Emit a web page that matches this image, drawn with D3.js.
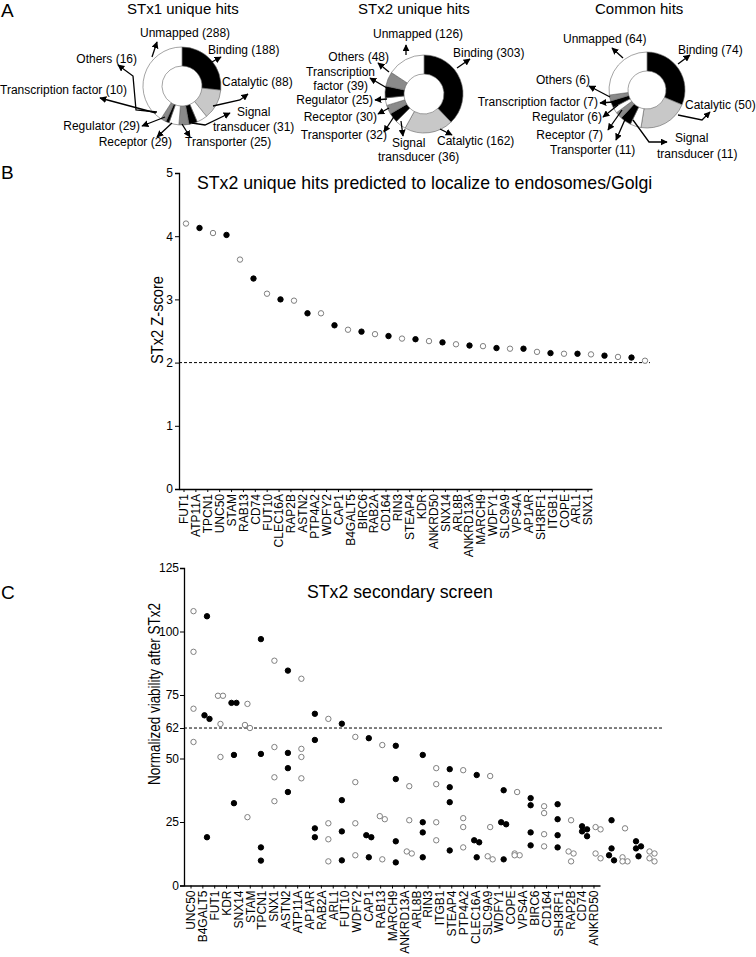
<!DOCTYPE html>
<html><head><meta charset="utf-8">
<script src="https://cdn.jsdelivr.net/npm/d3@7/dist/d3.min.js"></script>
<style>
body{margin:0;background:#fff}
svg{display:block}
text{font-family:Arial,"Liberation Sans",Helvetica,sans-serif;fill:#000}
</style>
</head><body>
<svg id="chart" width="756" height="957"></svg>
<script>
// ---------------- DATA ----------------
const pieCategories = ["Binding","Catalytic","Signal transducer","Transporter","Receptor","Regulator","Transcription factor","Others","Unmapped"];
const stx1Counts   = [188, 88, 31, 25, 29, 29, 10, 16, 288];
const stx2Counts   = [303, 162, 36, 32, 30, 25, 39, 48, 126];
const commonCounts = [74, 50, 11, 11, 7, 6, 7, 6, 64];
const pieTitles = ["STx1 unique hits", "STx2 unique hits", "Common hits"];

const zGenes = ["FUT1","ATP11A","TPCN1","UNC50","STAM","RAB13","CD74","FUT10","CLEC16A","RAP2B","ASTN2","PTP4A2","WDFY2","CAP1","B4GALT5","BIRC6","RAB2A","CD164","RIN3","STEAP4","KDR","ANKRD50","SNX14","ARL8B","ANKRD13A","MARCH9","WDFY1","SLC9A9","VPS4A","AP1AR","SH3RF1","ITGB1","COPE","ARL1","SNX1"];
const zScores = [4.20,4.13,4.05,4.02,3.63,3.33,3.09,3.00,2.98,2.78,2.78,2.59,2.52,2.49,2.45,2.42,2.38,2.37,2.34,2.32,2.29,2.27,2.26,2.23,2.22,2.22,2.17,2.15,2.14,2.14,2.13,2.11,2.09,2.08,2.03];
const zTicks = [0,1,2,3,4,5];
const zThreshold = 2;

const viabilityGenes = ["UNC50","B4GALT5","FUT1","KDR","SNX14","STAM","TPCN1","SNX1","ASTN2","ATP11A","AP1AR","RAB2A","ARL1","FUT10","WDFY2","CAP1","RAB13","MARCH9","ANKRD13A","ARL8B","RIN3","ITGB1","STEAP4","PTP4A2","CLEC16A","SLC9A9","WDFY1","COPE","VPS4A","BIRC6","CD164","SH3RF1","RAP2B","CD74","ANKRD50"];
const viabilityReps = [
 [108,92,69.6,56.5],[106,67,65.6,19],[74.7,74.7,63.6,50.6],[71.9,71.9,51.4,32.4],[71.5,63.2,62,26.9],
 [97,51.8,15,9.8],[88.5,54.5,42.6,33.2],[84.6,52.2,46.2,36.8],[81.4,53.8,50.6,42.2],[67.6,57.3,22.5,19],
 [65.6,24.5,18.2,9.5],[63.7,33.6,21.3,9.9],[58.5,40.7,24.5,11.9],[58,19.8,19,11.1],[55.3,27.3,26.1,10.3],
 [55,41.9,17.4,9.1],[39.1,25.7,13.4,12.6],[51.4,24.9,20.9,11.1],[46.2,39.9,24.9,17.8],[45.8,38.7,32.8,13.8],
 [45.4,26.5,23,15],[43.5,17.8,17,11.1],[43.1,23,11.5,10.3],[37.5,24.9,24.1,10.3],[36.8,12.6,11.9,11.9],
 [34.4,31.6,20.9,15.8],[31.2,28.5,20.2,15.4],[32,26.1,19.8,15],[25.7,13.4,12.6,9.5],[23.3,22.1,21.3,19.4],
 [23,22.1,12.6,10.7],[25.7,14.6,11.9,9.9],[22.5,11.1,9.5,9.5],[17.4,15.4,14.6,11.5],[13.4,12.6,10.7,9.5]
];
const viabilityTicks = [0,25,50,62,75,100,125];
const viabilityThreshold = 62;

// ---------------- STYLE / LAYOUT ----------------
const pieColors = ["#000","#c8c8c8","#fff","#000","#8a8a8a","#fff","#000","#8a8a8a","#fff"];
const FONT = "Arial, Liberation Sans, sans-serif";
const svg = d3.select("#chart");
svg.append("rect").attr("width",756).attr("height",957).attr("fill","#fff");

const defs = svg.append("defs");
defs.append("marker").attr("id","ah").attr("viewBox","0 0 10 10").attr("refX",9).attr("refY",5)
  .attr("markerWidth",7).attr("markerHeight",7).attr("orient","auto-start-reverse").attr("markerUnits","userSpaceOnUse")
  .append("path").attr("d","M0,0 L10,5 L0,10 z").attr("fill","#000");

// panel letters
[["A",17],["B",179],["C",599]].forEach(([t,y])=>{
  svg.append("text").attr("x",1).attr("y",y).attr("font-size",19).text(t);
});

// ---------- Panel A: donuts ----------
const pieLayouts = [
 {cx:182, cy:86, R:39, r:20, tx:127, ty:14, counts:stx1Counts,
  ann:[
   {lines:[0], x:208, y:54, a:"start", p:[[210,63],[221,57]]},
   {lines:[0], x:222, y:86, a:"start", p:[[213,106],[240,100],[248,94]]},
   {lines:["Signal","transducer"], x:[237,213], y:[116,131], a:"start", p:[[192,123],[205,125],[230,113]]},
   {lines:[0], x:185, y:146, a:"start", p:[[182,124],[190,137]]},
   {lines:[0], x:172, y:146, a:"end", p:[[172,123],[157,137]]},
   {lines:[0], x:140, y:130, a:"end", p:[[165,117],[142,126]]},
   {lines:[0], x:127, y:94, a:"end", p:[[156,113],[100,98]]},
   {lines:[0], x:137, y:63, a:"end", p:[[157,112],[136,110],[133,76],[118,65]]},
   {lines:[0], x:140, y:37, a:"start", p:[[152,57],[157,42]]}
  ]},
 {cx:424, cy:94, R:39, r:20, tx:358, ty:14, counts:stx2Counts,
  ann:[
   {lines:[0], x:453, y:57, a:"start", p:[[457,68],[470,59]]},
   {lines:[0], x:437, y:145, a:"start", p:[[440,129],[452,135]]},
   {lines:["Signal","transducer"], x:[392,378], y:[147,161], a:"start", p:[[401,121],[403,136]]},
   {lines:[0], x:387, y:139, a:"end", p:[[395,115],[384,132]]},
   {lines:[0], x:377, y:121, a:"end", p:[[389,108],[378,114]]},
   {lines:[0], x:373, y:104, a:"end", p:[[387,99],[375,100]]},
   {lines:["Transcription","factor"], x:[375,368], y:[76,90], a:"end", p:[[387,88],[370,78]]},
   {lines:[0], x:389, y:61, a:"end", p:[[389,72],[378,63]]},
   {lines:[0], x:373, y:38, a:"start", p:[[406,55],[406,45]]}
  ]},
 {cx:647, cy:90, R:38, r:19, tx:595, ty:14, counts:commonCounts,
  ann:[
   {lines:[0], x:678, y:54, a:"start", p:[[678,64],[690,55]]},
   {lines:[0], x:685, y:109, a:"start", p:[[678,115],[702,120],[710,112]]},
   {lines:["Signal","transducer"], x:[675,657], y:[142,158], a:"start", p:[[633,120],[649,142],[667,142]]},
   {lines:[0], x:550, y:154, a:"start", p:[[627,115],[616,140]]},
   {lines:[0], x:603, y:139, a:"end", p:[[622,110],[608,130]]},
   {lines:[0], x:602, y:121, a:"end", p:[[618,105],[603,117]]},
   {lines:[0], x:598, y:106, a:"end", p:[[613,102],[600,103]]},
   {lines:[0], x:590, y:84, a:"end", p:[[610,97],[589,86]]},
   {lines:[0], x:563, y:43, a:"start", p:[[623,58],[612,48]]}
  ]}
];

pieLayouts.forEach((L,pi)=>{
  const g = svg.append("g");
  g.append("text").attr("x",L.tx).attr("y",L.ty).attr("font-size",15).text(pieTitles[pi]);
  const arcs = d3.pie().sort(null).value(d=>d)(L.counts);
  const arc = d3.arc().innerRadius(L.r).outerRadius(L.R);
  g.append("g").attr("transform",`translate(${L.cx},${L.cy})`)
    .selectAll("path").data(arcs).join("path")
    .attr("d",arc).attr("fill",(d,i)=>pieColors[i]).attr("stroke","#666").attr("stroke-width",0.6);
  L.ann.forEach((an,i)=>{
    const full = `${pieCategories[i]} (${L.counts[i]})`;
    const lines = an.lines.length===1 ? [full] : [an.lines[0], `${an.lines[1]} (${L.counts[i]})`];
    lines.forEach((ln,k)=>{
      const x = Array.isArray(an.x)?an.x[k]:an.x;
      const y = Array.isArray(an.y)?an.y[k]:an.y;
      g.append("text").attr("x",x).attr("y",y).attr("font-size",12).attr("text-anchor",an.a).text(ln);
    });
    g.append("path").attr("d",d3.line()(an.p)).attr("fill","none").attr("stroke","#000")
      .attr("stroke-width",1.3).attr("marker-end","url(#ah)");
  });
});

function styleXAxis(xa){
  xa.select(".domain").attr("stroke","#000").attr("stroke-width",1.3);
  xa.selectAll(".tick line").attr("stroke","#000");
  xa.selectAll("text").attr("font-size",12).attr("font-family",FONT)
    .attr("transform","rotate(-90)").attr("x",-5).attr("y",0).attr("dy","0.36em").style("text-anchor","end");
}
function styleYAxis(ya){
  ya.select(".domain").attr("stroke","#000").attr("stroke-width",1.3);
  ya.selectAll(".tick line").attr("stroke","#000");
  ya.selectAll("text").attr("font-size",12).attr("font-family",FONT);
}

// ---------- Panel B ----------
(function(){
  const y = d3.scaleLinear().domain([0,5]).range([489,173]);
  const xLab = d3.scalePoint().domain(zGenes).range([179,592]).padding(0.38);
  const xPt = d3.scalePoint().domain(zGenes).range([186,645]);
  const g = svg.append("g");
  g.append("text").attr("x",197).attr("y",189).attr("font-size",17.7).text("STx2 unique hits predicted to localize to endosomes/Golgi");
  const ya = g.append("g").attr("transform","translate(179,0)")
    .call(d3.axisLeft(y).tickValues(zTicks).tickSize(4).tickPadding(2).tickFormat(d3.format("d")));
  styleYAxis(ya);
  const xa = g.append("g").attr("transform","translate(0,489)")
    .call(d3.axisBottom(xLab).tickSize(3).tickSizeOuter(0));
  styleXAxis(xa);
  g.append("line").attr("x1",179).attr("x2",650).attr("y1",y(zThreshold)).attr("y2",y(zThreshold))
    .attr("stroke","#000").attr("stroke-width",1).attr("stroke-dasharray","3,2");
  g.append("text").attr("transform","translate(163,320) rotate(-90)").attr("text-anchor","middle")
    .attr("font-size",16).attr("textLength",88).attr("lengthAdjust","spacingAndGlyphs").text("STx2 Z-score");
  g.selectAll("circle.pt").data(zGenes).join("circle").attr("class","pt")
    .attr("cx",d=>xPt(d)).attr("cy",(d,i)=>y(zScores[i])).attr("r",2.7)
    .attr("fill",(d,i)=>i%2===0?"#fff":"#000").attr("stroke",(d,i)=>i%2===0?"#808080":"#000").attr("stroke-width",1);
})();

// ---------- Panel C ----------
(function(){
  const y = d3.scaleLinear().domain([0,125]).range([885.5,568]);
  const xLab = d3.scalePoint().domain(viabilityGenes).range([184,600]).padding(0.55);
  const xPt = d3.scalePoint().domain(viabilityGenes).range([193.5,652]);
  const g = svg.append("g");
  g.append("text").attr("x",307).attr("y",598).attr("font-size",17.7).text("STx2 secondary screen");
  const ya = g.append("g").attr("transform","translate(184,0)")
    .call(d3.axisLeft(y).tickValues(viabilityTicks).tickSize(4).tickPadding(1).tickFormat(d3.format("d")));
  styleYAxis(ya);
  const xa = g.append("g").attr("transform","translate(0,885.5)")
    .call(d3.axisBottom(xLab).tickSize(3).tickSizeOuter(0));
  styleXAxis(xa);
  g.append("line").attr("x1",184).attr("x2",663).attr("y1",y(viabilityThreshold)).attr("y2",y(viabilityThreshold))
    .attr("stroke","#000").attr("stroke-width",1).attr("stroke-dasharray","3,2");
  g.append("text").attr("transform","translate(160,694) rotate(-90)").attr("text-anchor","middle")
    .attr("font-size",16).attr("textLength",182).attr("lengthAdjust","spacingAndGlyphs").text("Normalized viability after STx2");
  const pts = [];
  viabilityGenes.forEach((gname,gi)=>{
    const vals = viabilityReps[gi].slice().sort((a,b)=>b-a);
    let group = [vals[0]], groups=[];
    for (let k=1;k<vals.length;k++){
      if (Math.abs(y(vals[k])-y(group[group.length-1]))<5.5) group.push(vals[k]);
      else { groups.push(group); group=[vals[k]]; }
    }
    groups.push(group);
    groups.forEach(gr=>{
      gr.forEach((v,k)=>{
        const off = gr.length===1?0:(k%2===0?-2.5:2.5);
        pts.push({g:gname, gi, v, off});
      });
    });
  });
  g.selectAll("circle.pt").data(pts).join("circle").attr("class","pt")
    .attr("cx",d=>xPt(d.g)+d.off).attr("cy",d=>y(d.v)).attr("r",2.7)
    .attr("fill",d=>d.gi%2===0?"#fff":"#000").attr("stroke",d=>d.gi%2===0?"#808080":"#000").attr("stroke-width",1);
})();
</script>
</body></html>
